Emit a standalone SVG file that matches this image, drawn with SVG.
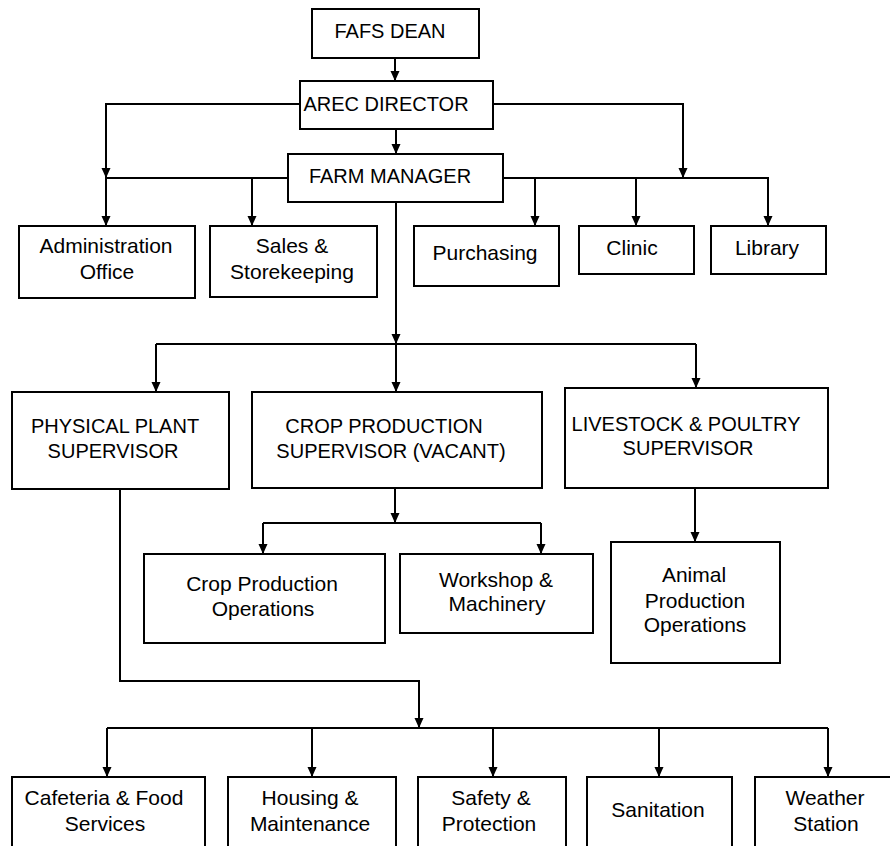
<svg xmlns="http://www.w3.org/2000/svg" width="890" height="846" viewBox="0 0 890 846">
<style>
.box{fill:#fff;stroke:#000;stroke-width:2}
.t{font-family:"Liberation Sans",Arial,sans-serif;font-size:20px;fill:#000;text-anchor:middle}
.l{font-size:21px}
.c{fill:none;stroke:#000;stroke-width:2}
.a{marker-end:url(#ah)}
</style>
<defs>
<marker id="ah" viewBox="0 0 10 10" refX="10" refY="5" markerWidth="11" markerHeight="10" markerUnits="userSpaceOnUse" orient="auto">
<path d="M0,0.5 L10,5 L0,9.5 z" fill="#000"/>
</marker>
</defs>
<rect width="890" height="846" fill="#fff"/>
<g id="connectors">
<path class="c a" d="M395,58 V81"/>
<path class="c a" d="M396,129 V154"/>
<path class="c a" d="M300,104 H106 V178"/>
<path class="c a" d="M288,178 H106 V226"/>
<path class="c a" d="M252,178 V226"/>
<path class="c a" d="M493,104 H683 V178"/>
<path class="c a" d="M503,178 H768 V226"/>
<path class="c a" d="M535,178 V226"/>
<path class="c a" d="M636,178 V226"/>
<path class="c a" d="M396,202 V344"/>
<path class="c a" d="M156,344 V392"/>
<path class="c" d="M156,344 H696"/>
<path class="c a" d="M396,344 V392"/>
<path class="c a" d="M696,344 V388"/>
<path class="c a" d="M395,488 V523"/>
<path class="c a" d="M263,523 V554"/>
<path class="c" d="M263,523 H541"/>
<path class="c a" d="M541,523 V554"/>
<path class="c a" d="M695,488 V542"/>
<path class="c a" d="M120,489 V681 H419 V728"/>
<path class="c" d="M107,728 H828"/>
<path class="c a" d="M107,728 V777"/>
<path class="c a" d="M312,728 V777"/>
<path class="c a" d="M493,728 V777"/>
<path class="c a" d="M659,728 V777"/>
<path class="c a" d="M828,728 V777"/>
</g>
<g id="fafs-dean"><rect class="box" x="312" y="9" width="167" height="49"/><text class="t" x="390" y="38">FAFS DEAN</text></g>
<g id="arec-director"><rect class="box" x="300" y="81" width="193" height="48"/><text class="t" x="386" y="111">AREC DIRECTOR</text></g>
<g id="farm-manager"><rect class="box" x="288" y="154" width="215" height="48"/><text class="t" x="390" y="183">FARM MANAGER</text></g>
<g id="administration-office"><rect class="box" x="19" y="226" width="176" height="72"/><text class="t l" x="106" y="253">Administration</text><text class="t l" x="107" y="279">Office</text></g>
<g id="sales-storekeeping"><rect class="box" x="210" y="226" width="167" height="71"/><text class="t l" x="292" y="253">Sales &amp;</text><text class="t l" x="292" y="279">Storekeeping</text></g>
<g id="purchasing"><rect class="box" x="414" y="226" width="145" height="60"/><text class="t l" x="485" y="260">Purchasing</text></g>
<g id="clinic"><rect class="box" x="579" y="226" width="115" height="48"/><text class="t l" x="632" y="255">Clinic</text></g>
<g id="library"><rect class="box" x="711" y="226" width="115" height="48"/><text class="t l" x="767" y="255">Library</text></g>
<g id="physical-plant-supervisor"><rect class="box" x="12" y="392" width="217" height="97"/><text class="t" x="115" y="433">PHYSICAL PLANT</text><text class="t" x="113" y="458">SUPERVISOR</text></g>
<g id="crop-production-supervisor"><rect class="box" x="252" y="392" width="290" height="96"/><text class="t" x="384" y="433">CROP PRODUCTION</text><text class="t" x="391" y="458">SUPERVISOR (VACANT)</text></g>
<g id="livestock-poultry-supervisor"><rect class="box" x="565" y="388" width="263" height="100"/><text class="t" x="686" y="431">LIVESTOCK &amp; POULTRY</text><text class="t" x="688" y="455">SUPERVISOR</text></g>
<g id="crop-production-operations"><rect class="box" x="144" y="554" width="241" height="89"/><text class="t l" x="262" y="591">Crop Production</text><text class="t l" x="263" y="616">Operations</text></g>
<g id="workshop-machinery"><rect class="box" x="400" y="554" width="193" height="79"/><text class="t l" x="496" y="587">Workshop &amp;</text><text class="t l" x="497" y="611">Machinery</text></g>
<g id="animal-production-operations"><rect class="box" x="611" y="542" width="169" height="121"/><text class="t l" x="694" y="582">Animal</text><text class="t l" x="695" y="608">Production</text><text class="t l" x="695" y="632">Operations</text></g>
<g id="cafeteria-food-services"><rect class="box" x="12" y="777" width="193" height="90"/><text class="t l" x="104" y="805">Cafeteria &amp; Food</text><text class="t l" x="105" y="831">Services</text></g>
<g id="housing-maintenance"><rect class="box" x="228" y="777" width="168" height="90"/><text class="t l" x="310" y="805">Housing &amp;</text><text class="t l" x="310" y="831">Maintenance</text></g>
<g id="safety-protection"><rect class="box" x="418" y="777" width="148" height="90"/><text class="t l" x="491" y="805">Safety &amp;</text><text class="t l" x="489" y="831">Protection</text></g>
<g id="sanitation"><rect class="box" x="587" y="777" width="145" height="90"/><text class="t l" x="658" y="817">Sanitation</text></g>
<g id="weather-station"><rect class="box" x="755" y="777" width="150" height="90"/><text class="t l" x="825" y="805">Weather</text><text class="t l" x="826" y="831">Station</text></g>
</svg>
